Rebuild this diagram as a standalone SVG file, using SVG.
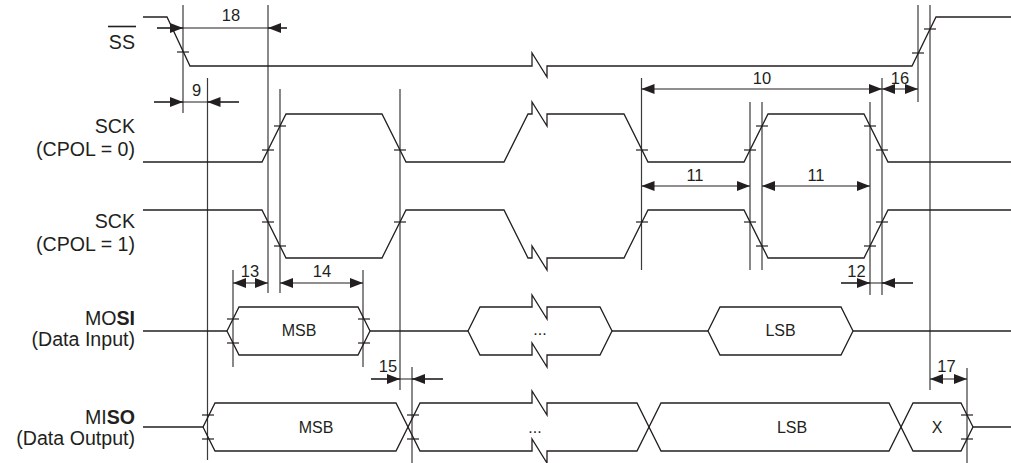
<svg xmlns="http://www.w3.org/2000/svg" width="1011" height="463" viewBox="0 0 1011 463">
<style>
.sig{fill:none;stroke:#231f20;stroke-width:1.3;stroke-linejoin:miter}
.gd{stroke:#3a3a3a;stroke-width:1.2}
.tk{stroke:#231f20;stroke-width:1.2}
.dim{stroke:#231f20;stroke-width:1.2;fill:none}
.lbl{font-family:"Liberation Sans",Arial,sans-serif;font-size:19.6px;fill:#231f20;text-anchor:end}
.num{font-family:"Liberation Sans",Arial,sans-serif;font-size:16.5px;fill:#231f20;text-anchor:middle}
.dat{font-family:"Liberation Sans",Arial,sans-serif;font-size:16px;fill:#231f20;text-anchor:middle}
.b{font-weight:bold}
</style>
<defs>
<marker id="ah" viewBox="0 0 13 10" refX="13" refY="5" markerWidth="13" markerHeight="10" markerUnits="userSpaceOnUse" orient="auto-start-reverse">
<path d="M0,0L13,5L0,10z" fill="#231f20"/>
</marker>
</defs>
<rect width="1011" height="463" fill="#fff"/>

<g id="labels">
<text class="lbl" x="135" y="48.5">SS</text>
<line x1="108" y1="26.5" x2="136" y2="26.5" stroke="#231f20" stroke-width="1.6"/>
<text class="lbl" x="135" y="133">SCK</text>
<text class="lbl" x="135" y="155.5">(CPOL = 0)</text>
<text class="lbl" x="135" y="228">SCK</text>
<text class="lbl" x="135" y="250.5">(CPOL = 1)</text>
<text class="lbl" x="135" y="324.5">MO<tspan class="b">SI</tspan></text>
<text class="lbl" x="135" y="346">(Data Input)</text>
<text class="lbl" x="135" y="423.5">MI<tspan class="b">SO</tspan></text>
<text class="lbl" x="135" y="445">(Data Output)</text>
</g>

<g id="guides">
<line class="gd" x1="183" y1="5" x2="183" y2="113"/>
<line class="gd" x1="268" y1="5" x2="268" y2="293"/>
<line class="gd" x1="207.5" y1="78" x2="207.5" y2="460"/>
<line class="gd" x1="280" y1="89" x2="280" y2="293"/>
<line class="gd" x1="400" y1="89" x2="400" y2="390"/>
<line class="gd" x1="641.5" y1="78" x2="641.5" y2="270"/>
<line class="gd" x1="750" y1="102" x2="750" y2="270"/>
<line class="gd" x1="762" y1="102" x2="762" y2="270"/>
<line class="gd" x1="870" y1="102" x2="870" y2="295"/>
<line class="gd" x1="882" y1="78" x2="882" y2="295"/>
<line class="gd" x1="918" y1="5" x2="918" y2="102"/>
<line class="gd" x1="930" y1="5" x2="930" y2="390"/>
<line class="gd" x1="233" y1="270" x2="233" y2="367"/>
<line class="gd" x1="363" y1="270" x2="363" y2="367"/>
<line class="gd" x1="412" y1="367" x2="412" y2="463"/>
<line class="gd" x1="967" y1="368" x2="967" y2="463"/>
</g>

<g id="ss">
<path class="sig" d="M143,17H167L190,66H532V53L547,77V66H912L936,17H1011"/>
</g>
<g id="sck-cpol0">
<path class="sig" d="M143,162H262L286,114H382L406,162H504L528,114H532V102L547,126V114H624L648,162H744L768,114H864L888,162H1011"/>
</g>
<g id="sck-cpol1">
<path class="sig" d="M143,210H262L286,258H382L406,210H504L528,258H532V246L547,270V258H624L648,210H744L768,258H864L888,210H1011"/>
</g>
<g id="mosi">
<path class="sig" d="M143,331H227"/>
<path class="sig" d="M227,331L239,307H358L370,331L358,355H239Z"/>
<path class="sig" d="M370,331H468"/>
<path class="sig" d="M468,331L480,307H532V295L547,319V307H600L612,331L600,355H547V367L532,343V355H480Z"/>
<path class="sig" d="M612,331H708"/>
<path class="sig" d="M708,331L720,307H841L853,331L841,355H720Z"/>
<path class="sig" d="M853,331H1011"/>
<text class="dat" x="299" y="336">MSB</text>
<text class="dat" x="540" y="335">...</text>
<text class="dat" x="780.5" y="336">LSB</text>
</g>
<g id="miso">
<path class="sig" d="M143,427H203L215,403H396L420,451H532V439L547,463V451H637L661,403H889L913,451H961L973,427H1011"/>
<path class="sig" d="M203,427L215,451H396L420,403H532V391L547,415V403H637L661,451H889L913,403H961L973,427"/>
<text class="dat" x="316" y="432.5">MSB</text>
<text class="dat" x="535" y="432.5">...</text>
<text class="dat" x="792" y="432.5">LSB</text>
<text class="dat" x="937" y="432.5">X</text>
</g>

<g id="ticks">
<line class="tk" x1="177" y1="52" x2="189" y2="52"/>
<line class="tk" x1="912" y1="53" x2="924" y2="53"/>
<line class="tk" x1="924" y1="29" x2="936" y2="29"/>
<line class="tk" x1="262" y1="150" x2="274" y2="150"/>
<line class="tk" x1="274" y1="126" x2="286" y2="126"/>
<line class="tk" x1="394" y1="150" x2="406" y2="150"/>
<line class="tk" x1="636" y1="150" x2="648" y2="150"/>
<line class="tk" x1="744" y1="150" x2="756" y2="150"/>
<line class="tk" x1="756" y1="126" x2="768" y2="126"/>
<line class="tk" x1="864" y1="126" x2="876" y2="126"/>
<line class="tk" x1="876" y1="150" x2="888" y2="150"/>
<line class="tk" x1="262" y1="222" x2="274" y2="222"/>
<line class="tk" x1="274" y1="246" x2="286" y2="246"/>
<line class="tk" x1="394" y1="222" x2="406" y2="222"/>
<line class="tk" x1="636" y1="222" x2="648" y2="222"/>
<line class="tk" x1="744" y1="222" x2="756" y2="222"/>
<line class="tk" x1="756" y1="246" x2="768" y2="246"/>
<line class="tk" x1="864" y1="246" x2="876" y2="246"/>
<line class="tk" x1="876" y1="222" x2="888" y2="222"/>
<line class="tk" x1="227" y1="319" x2="239" y2="319"/>
<line class="tk" x1="227" y1="343" x2="239" y2="343"/>
<line class="tk" x1="358" y1="319" x2="370" y2="319"/>
<line class="tk" x1="358" y1="343" x2="370" y2="343"/>
<line class="tk" x1="202" y1="415" x2="214" y2="415"/>
<line class="tk" x1="202" y1="439" x2="214" y2="439"/>
<line class="tk" x1="407" y1="415" x2="419" y2="415"/>
<line class="tk" x1="407" y1="439" x2="419" y2="439"/>
<line class="tk" x1="961" y1="415" x2="973" y2="415"/>
<line class="tk" x1="961" y1="439" x2="973" y2="439"/>
</g>

<g id="connectors">
<line class="dim" x1="157" y1="28" x2="287" y2="28"/>
<path class="dim" d="M157,28H183" marker-end="url(#ah)"/>
<path class="dim" d="M287,28H268" marker-end="url(#ah)"/>
<line class="dim" x1="154" y1="102" x2="239" y2="102"/>
<path class="dim" d="M154,102H183" marker-end="url(#ah)"/>
<path class="dim" d="M239,102H207.5" marker-end="url(#ah)"/>
<path class="dim" d="M641.5,89H882" marker-start="url(#ah)" marker-end="url(#ah)"/>
<path class="dim" d="M882,89H918" marker-start="url(#ah)" marker-end="url(#ah)"/>
<path class="dim" d="M641.5,186H750" marker-start="url(#ah)" marker-end="url(#ah)"/>
<path class="dim" d="M762,186H870" marker-start="url(#ah)" marker-end="url(#ah)"/>
<line class="dim" x1="841" y1="283" x2="913" y2="283"/>
<path class="dim" d="M841,283H870" marker-end="url(#ah)"/>
<path class="dim" d="M913,283H882" marker-end="url(#ah)"/>
<path class="dim" d="M233,283H268" marker-start="url(#ah)" marker-end="url(#ah)"/>
<path class="dim" d="M280,283H363" marker-start="url(#ah)" marker-end="url(#ah)"/>
<line class="dim" x1="371" y1="379" x2="443" y2="379"/>
<path class="dim" d="M371,379H400" marker-end="url(#ah)"/>
<path class="dim" d="M443,379H412" marker-end="url(#ah)"/>
<path class="dim" d="M930,379H967" marker-start="url(#ah)" marker-end="url(#ah)"/>
</g>

<g id="dimension-labels">
<text class="num" x="231" y="21">18</text>
<text class="num" x="196.5" y="96">9</text>
<text class="num" x="762" y="83.5">10</text>
<text class="num" x="900" y="83.5">16</text>
<text class="num" x="695" y="180.5">11</text>
<text class="num" x="816" y="180.5">11</text>
<text class="num" x="856.5" y="276.5">12</text>
<text class="num" x="250" y="276.5">13</text>
<text class="num" x="322" y="276.5">14</text>
<text class="num" x="388" y="372">15</text>
<text class="num" x="946.5" y="372">17</text>
</g>
</svg>
